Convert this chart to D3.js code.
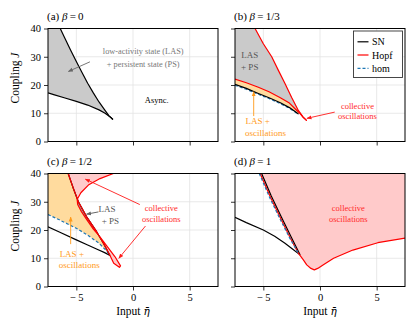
<!DOCTYPE html>
<html>
<head>
<meta charset="utf-8">
<script src="https://cdn.jsdelivr.net/npm/d3@7"></script>
<style>
  html, body { margin: 0; padding: 0; background: #fff; }
  svg { display: block; }
  svg text { font-family: "Liberation Serif", "Times New Roman", serif; }
</style>
</head>
<body>
<svg id="chart" width="415" height="326"></svg>
<script>
// ---------------- DATA (η, J) ----------------
const etaTicks = [-5, 0, 5];
const JTicks = [0, 10, 20, 30, 40];
const etaDomain = [-7.5, 7.5];
const JDomain = [0, 40];
const panelLetters = ["(a)", "(b)", "(c)", "(d)"];
const panelBetas = ["0", "1/3", "1/2", "1"];

// (a) beta = 0
const snUpperA = [[-6.42,40],[-6,36.5],[-5.5,32.3],[-5,28.3],[-4.5,24.4],[-4,20.6],[-3.5,17.2],[-3,14.0],[-2.5,11.2],[-2.1,9.0],[-1.77,7.8]];
const snLowerA = [[-7.5,17.2],[-7,16.6],[-6,15.4],[-5,14.2],[-4,12.9],[-3,11.2],[-2.5,10.1],[-2,8.7],[-1.77,7.8]];

// (b) beta = 1/3
const hopfUpperB = [[-5.73,40],[-5.0,34.6],[-4.26,30],[-3.65,25.0],[-3.09,20.5],[-2.5,15.6],[-1.91,11],[-1.5,8.7],[-1.17,7.4]];
const hopfLowerB = [[-7.5,22.1],[-6.5,20.8],[-5.44,19.2],[-4.5,17.6],[-3.5,15.5],[-2.7,13.6],[-2.2,11.6],[-1.76,9.9],[-1.45,8.4],[-1.17,7.4]];
const snLowerB = [[-7.5,20.2],[-6.5,18.8],[-5.44,17.0],[-4.5,15.5],[-3.5,13.7],[-2.7,12.0],[-2.2,10.6],[-1.9,9.7]];
const homB = [[-7.5,19.9],[-6.5,18.5],[-5.44,16.7],[-4.5,15.2],[-3.5,13.4],[-2.7,11.8],[-2.2,10.4],[-1.9,9.6]];

// (c) beta = 1/2
const snLowerC = [[-7.5,21.1],[-6.5,19.3],[-5,16.5],[-4,14.7],[-3.17,13.2],[-2.5,12.0],[-2.03,11.0]];
const snUpperC = [[-5.72,40],[-5.26,34.7],[-4.82,30],[-4.09,24.7],[-3.21,19.4],[-2.6,15.2],[-2.03,11.0]];
const homC = [[-7.5,25.5],[-6.5,23.6],[-5,20.6],[-4,18.2],[-3,15.3],[-2.4,12.9],[-2.03,11.0]];
const hopfC = [[-1.73,40],[-2.91,38.2],[-3.94,35.9],[-4.6,33.2],[-4.93,30.8],[-4.88,29.0],[-4.55,26.5],[-4.05,23.5],[-3.5,20.3],[-3.0,18.0],[-2.3,14.3],[-1.6,10.6],[-1.1,7.3],[-1.2,6.8],[-1.7,8.2],[-2.03,11.0],[-2.6,15.2],[-3.21,19.4],[-4.09,24.7],[-4.82,30],[-5.26,34.7],[-5.72,40]];
const lensC = [[-4.9,30.5],[-4.88,29.0],[-4.55,26.5],[-4.05,23.5],[-3.5,20.3],[-3.0,18.0],[-3.21,19.4],[-4.09,24.7],[-4.82,30]];

// (d) beta = 1
const snLowerD = [[-7.5,24.5],[-6.5,22.6],[-5,20],[-4,17.8],[-3.09,15.3],[-2.4,13.2],[-1.76,11.2]];
const snUpperD = [[-5.15,40],[-4.3,32],[-3.4,24.5],[-2.5,17.2],[-1.76,11.2]];
const hopfD = [[-5.28,40],[-4.42,32],[-3.52,24.5],[-2.62,17.2],[-1.88,11.6],[-1.5,9.6],[-1.17,7.65],[-0.8,6.4],[-0.5,5.9],[-0.2,6.4],[0.3,7.7],[1.2,10.0],[2.9,12.9],[5.1,15.5],[7.5,17.1]];
const homD = [[-5.36,40],[-4.5,32],[-3.6,24.5],[-2.68,17.2],[-1.85,11.4]];

// legend
const legendLabels = ["SN", "Hopf", "hom"];

// ---------------- LAYOUT ----------------
const FONT = "'Liberation Serif', 'Times New Roman', serif";
const svg = d3.select("#chart");
const W = 170, H = 113;
const lefts = [48, 235], tops = [28.5, 173.5];
const C_RED = "#ff0000", C_BLACK = "#000000", C_BLUE = "#1f77b4";
const C_GRAY = "#cacaca", C_ORANGE = "#ffdb9e", C_PINK = "#ffcaca";

const defs = svg.append("defs");
function marker(id, color) {
  defs.append("marker").attr("id", id).attr("viewBox", "0 0 10 10")
    .attr("refX", 9).attr("refY", 5).attr("markerWidth", 5).attr("markerHeight", 5)
    .attr("markerUnits", "userSpaceOnUse").attr("orient", "auto")
    .append("path").attr("d", "M0,1 L10,5 L0,9 Z").attr("fill", color);
}
marker("arGray", "#666");
marker("arOrange", "#ff9a1a");
marker("arRed", "#ff1a1a");

const panels = [];
for (let i = 0; i < 4; i++) {
  const col = i % 2, row = Math.floor(i / 2);
  const x = d3.scaleLinear().domain(etaDomain).range([lefts[col], lefts[col] + W]);
  const y = d3.scaleLinear().domain(JDomain).range([tops[row] + H, tops[row]]);
  const g = svg.append("g");
  const clipId = "clip" + i;
  defs.append("clipPath").attr("id", clipId).append("rect")
    .attr("x", lefts[col]).attr("y", tops[row]).attr("width", W).attr("height", H);
  g.selectAll(".gx").data(etaTicks).join("line")
    .attr("x1", d => x(d)).attr("x2", d => x(d)).attr("y1", tops[row]).attr("y2", tops[row] + H)
    .attr("stroke", "#e3e3e3").attr("stroke-width", 0.8);
  g.selectAll(".gy").data(JTicks.slice(1, -1)).join("line")
    .attr("y1", d => y(d)).attr("y2", d => y(d)).attr("x1", lefts[col]).attr("x2", lefts[col] + W)
    .attr("stroke", "#e3e3e3").attr("stroke-width", 0.8);
  const plot = g.append("g").attr("clip-path", `url(#${clipId})`);
  panels.push({ x, y, g, plot, col, row });
}

function line(p) { return d3.line().x(d => p.x(d[0])).y(d => p.y(d[1])); }
function area(p, pts) { return line(p)(pts) + "Z"; }
function fill(p, pts, color) {
  p.plot.append("path").attr("d", area(p, pts)).attr("fill", color).attr("stroke", "none");
}
function stroke(p, pts, color, dash, w) {
  p.plot.append("path").attr("d", line(p)(pts)).attr("fill", "none")
    .attr("stroke", color).attr("stroke-width", w || 1.2)
    .attr("stroke-dasharray", dash || null).attr("stroke-linejoin", "round");
}
const rev = a => a.slice().reverse();

// ---- (a)
{
  const p = panels[0];
  fill(p, [[-7.5,40], ...snUpperA, ...rev(snLowerA)], C_GRAY);
  stroke(p, snUpperA, C_BLACK);
  stroke(p, snLowerA, C_BLACK);
}
// ---- (b)
{
  const p = panels[1];
  fill(p, [[-7.5,40], ...hopfUpperB, ...rev(hopfLowerB)], C_GRAY);
  fill(p, [...hopfLowerB.slice(0, 8), ...rev(snLowerB)], C_ORANGE);
  stroke(p, homB, C_BLUE, "3,2");
  stroke(p, snLowerB, C_BLACK);
  stroke(p, hopfUpperB, C_RED);
  stroke(p, hopfLowerB, C_RED);
}
// ---- (c)
{
  const p = panels[2];
  fill(p, [[-7.5,40], ...snUpperC, ...rev(homC)], C_ORANGE);
  fill(p, hopfC, C_PINK);
  fill(p, lensC, "#a9a9a9");
  stroke(p, snLowerC, C_BLACK);
  stroke(p, homC, C_BLUE, "3,2");
  stroke(p, snUpperC, C_BLACK);
  stroke(p, hopfC, C_RED);
}
// ---- (d)
{
  const p = panels[3];
  fill(p, [...hopfD, [7.5,40]], C_PINK);
  stroke(p, snLowerD, C_BLACK);
  stroke(p, snUpperD, C_BLACK);
  stroke(p, hopfD, C_RED);
  stroke(p, homD, C_BLUE, "3,2");
}

// ---- axes frames, ticks, labels
panels.forEach((p, i) => {
  const xAxis = d3.axisBottom(p.x).tickValues(etaTicks).tickSize(4).tickPadding(3)
    .tickFormat(d => p.row === 1 ? (d < 0 ? "\u2212\u2009" + Math.abs(d) : String(d)) : "");
  const yAxis = d3.axisLeft(p.y).tickValues(JTicks).tickSize(4).tickPadding(3)
    .tickFormat(d => p.col === 0 ? String(d) : "");
  const gx = p.g.append("g").attr("transform", `translate(0,${tops[p.row] + H})`).call(xAxis);
  const gy = p.g.append("g").attr("transform", `translate(${lefts[p.col]},0)`).call(yAxis);
  [gx, gy].forEach(a => {
    a.attr("font-family", FONT);
    a.select(".domain").remove();
    a.selectAll("line").attr("stroke", "#000").attr("stroke-width", 0.8);
    a.selectAll("text").attr("font-family", FONT).attr("font-size", 10.5).attr("fill", "#000");
  });
  p.g.append("rect").attr("x", lefts[p.col]).attr("y", tops[p.row]).attr("width", W).attr("height", H)
    .attr("fill", "none").attr("stroke", "#000").attr("stroke-width", 1);
  const t = p.g.append("text").attr("x", lefts[p.col] - 1).attr("y", tops[p.row] - 9)
    .attr("font-family", FONT).attr("font-size", 11).attr("fill", "#000");
  t.append("tspan").text(panelLetters[i] + " ");
  t.append("tspan").attr("font-style", "italic").text("β");
  t.append("tspan").text("\u2009=\u2009" + panelBetas[i]);
  if (p.col === 0) {
    const cy = p.row === 0 ? 78 : 226;
    const yl = p.g.append("text").attr("transform", `translate(19,${cy}) rotate(-90)`)
      .attr("font-family", FONT).attr("text-anchor", "middle").attr("font-size", 11.5).attr("fill", "#000");
    yl.append("tspan").text("Coupling ");
    yl.append("tspan").attr("font-style", "italic").text("J");
  }
  if (p.row === 1) {
    const xl = p.g.append("text").attr("x", lefts[p.col] + W / 2).attr("y", 315)
      .attr("font-family", FONT).attr("text-anchor", "middle").attr("font-size", 11.5).attr("fill", "#000");
    xl.append("tspan").text("Input ");
    xl.append("tspan").attr("font-family", "'DejaVu Serif', serif").attr("font-style", "italic")
      .attr("font-size", 10.5).text("\u03B7\u0304");
  }
});

// ---- annotations
function txt(x, y, s, color, size, anchor) {
  svg.append("text").attr("x", x).attr("y", y).attr("text-anchor", anchor || "middle")
    .attr("font-family", FONT).attr("font-size", size || 8.5).attr("fill", color).text(s);
}
function arrow(p, from, to, color, mk) {
  svg.append("line").attr("x1", p.x(from[0])).attr("y1", p.y(from[1]))
    .attr("x2", p.x(to[0])).attr("y2", p.y(to[1]))
    .attr("stroke", color).attr("stroke-width", 0.9).attr("marker-end", `url(#${mk})`);
}
{
  const p = panels[0];
  txt(p.x(0.9), p.y(31), "low-activity state (LAS)", "#777", 8.3);
  txt(p.x(0.9), p.y(26.3), "+ persistent state (PS)", "#777", 8.3);
  arrow(p, [-3.8, 28.2], [-5.7, 24.8], "#666", "arGray");
  txt(p.x(2.1), p.y(13.5), "Async.", "#000", 8.5);
}
{
  const p = panels[1];
  txt(p.x(-6.2), p.y(29.5), "LAS", "#555", 9);
  txt(p.x(-6.2), p.y(25.4), "+ PS", "#555", 9);
  txt(p.x(-5.5), p.y(6.1), "LAS +", "#ff9a1a", 9);
  txt(p.x(-4.8), p.y(2.0), "oscillations", "#ff9a1a", 9);
  arrow(p, [-5.85, 9.0], [-5.85, 17.6], "#ff9a1a", "arOrange");
  txt(p.x(3.3), p.y(11.6), "collective", "#ff2a2a", 8.5);
  txt(p.x(3.3), p.y(8.0), "oscillations", "#ff2a2a", 8.5);
  arrow(p, [1.3, 10.4], [-1.15, 8.2], "#ff1a1a", "arRed");
}
{
  const p = panels[2];
  txt(p.x(-2.3), p.y(26.2), "LAS", "#555", 9);
  txt(p.x(-2.0), p.y(22.3), "+ PS", "#555", 9);
  arrow(p, [-3.05, 26.4], [-4.1, 25.6], "#555", "arGray");
  txt(p.x(-5.4), p.y(10.5), "LAS +", "#ff9a1a", 9);
  txt(p.x(-4.75), p.y(6.5), "oscillations", "#ff9a1a", 9);
  arrow(p, [-5.5, 15.0], [-5.5, 24.6], "#ff9a1a", "arOrange");
  txt(p.x(2.5), p.y(26.8), "collective", "#ff2a2a", 8.5);
  txt(p.x(2.5), p.y(22.8), "oscillations", "#ff2a2a", 8.5);
  arrow(p, [0.6, 29.0], [-4.2, 38.0], "#ff1a1a", "arRed");
  arrow(p, [1.1, 21.4], [-1.25, 10.0], "#ff1a1a", "arRed");
}
{
  const p = panels[3];
  txt(p.x(2.5), p.y(26.8), "collective", "#ff2a2a", 8.5);
  txt(p.x(2.5), p.y(22.8), "oscillations", "#ff2a2a", 8.5);
}

// ---- legend in (b)
{
  const lg = svg.append("g");
  lg.append("rect").attr("x", 353.5).attr("y", 31).attr("width", 49).attr("height", 46.5)
    .attr("fill", "#fff").attr("stroke", "#333").attr("stroke-width", 0.9);
  const colors = [C_BLACK, C_RED, C_BLUE];
  const dashes = [null, null, "3,2"];
  const ys = [41.8, 55, 68.3];
  legendLabels.forEach((lab, k) => {
    lg.append("line").attr("x1", 357.5).attr("x2", 368.5).attr("y1", ys[k]).attr("y2", ys[k])
      .attr("stroke", colors[k]).attr("stroke-width", 1.2).attr("stroke-dasharray", dashes[k]);
    lg.append("text").attr("x", 372).attr("y", ys[k] + 3.5).attr("font-family", FONT)
      .attr("font-size", 10).attr("fill", "#000").text(lab);
  });
}
</script>
</body>
</html>
